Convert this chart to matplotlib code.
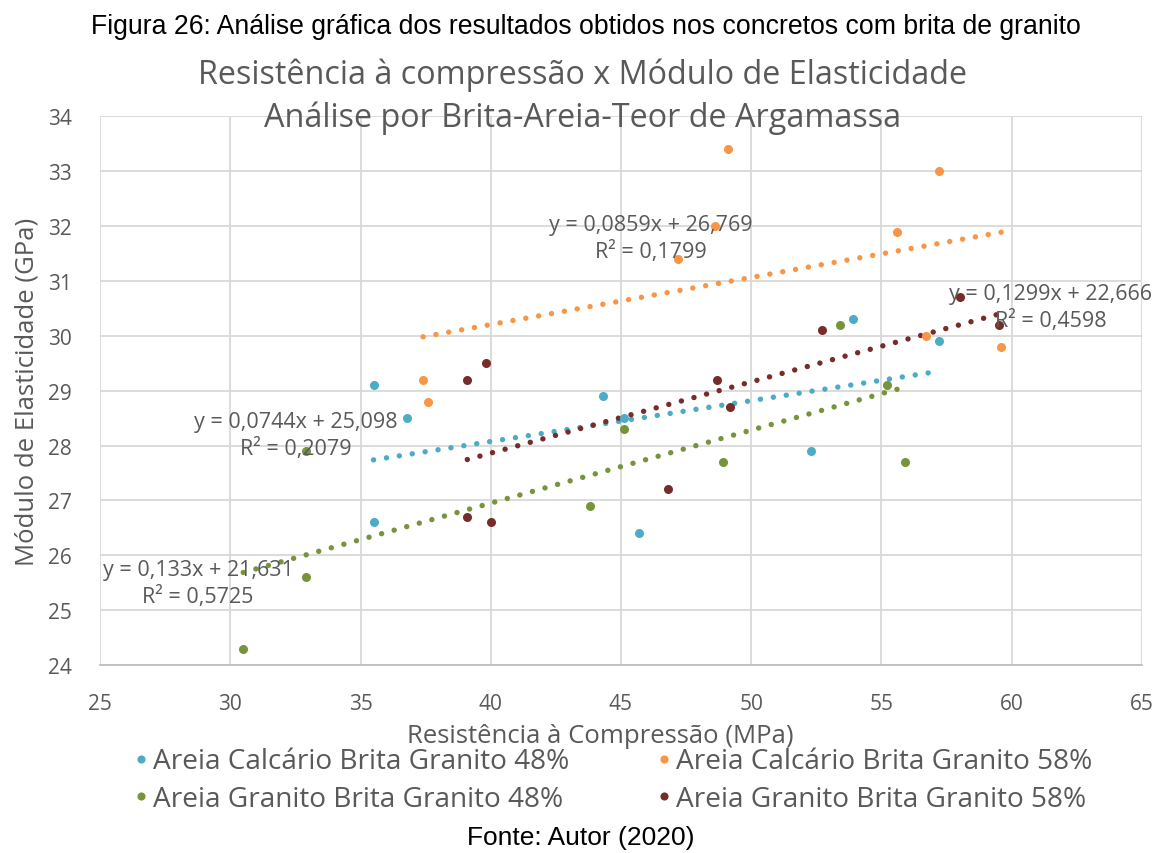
import numpy as np
import matplotlib
matplotlib.use("Agg")
import matplotlib.pyplot as plt

plt.rcParams['font.family'] = ['Open Sans', 'DejaVu Sans']

# dados (Resistencia MPa, Modulo GPa)
cal48_x = [35.5, 36.8, 35.5, 44.3, 45.1, 45.7, 52.3, 53.9, 57.2]
cal48_y = [29.1, 28.5, 26.6, 28.9, 28.5, 26.4, 27.9, 30.3, 29.9]

cal58_x = [37.4, 37.6, 47.2, 48.6, 49.1, 55.6, 56.7, 57.2, 59.6]
cal58_y = [29.2, 28.8, 31.4, 32.0, 33.4, 31.9, 30.0, 33.0, 29.8]

gra48_x = [30.5, 32.9, 32.9, 43.8, 45.1, 48.9, 53.4, 55.2, 55.9]
gra48_y = [24.3, 25.6, 27.9, 26.9, 28.3, 27.7, 30.2, 29.1, 27.7]

gra58_x = [39.1, 39.8, 39.1, 40.0, 46.8, 48.7, 49.2, 52.7, 58.0, 59.5]
gra58_y = [29.2, 29.5, 26.7, 26.6, 27.2, 29.2, 28.7, 30.1, 30.7, 30.2]

nomes = ["Areia Calcário Brita Granito 48%", "Areia Calcário Brita Granito 58%",
         "Areia Granito Brita Granito 48%", "Areia Granito Brita Granito 58%"]
cores = ["#4BACC6", "#F79646", "#77933C", "#772C2A"]

# equacoes das linhas de tendencia (como mostradas no grafico)
coef_a = [0.0744, 0.0859, 0.133, 0.1299]
coef_b = [25.098, 26.769, 21.631, 22.666]
eq_txt = ["y = 0,0744x + 25,098\nR² = 0,2079",
          "y = 0,0859x + 26,769\nR² = 0,1799",
          "y = 0,133x + 21,631\nR² = 0,5725",
          "y = 0,1299x + 22,666\nR² = 0,4598"]
eq_pos = [(32.52, 28.19), (46.15, 31.78), (28.76, 25.49), (61.5, 30.53)]

xs = [cal48_x, cal58_x, gra48_x, gra58_x]
ys = [cal48_y, cal58_y, gra48_y, gra58_y]

cinza = "#595959"

fig = plt.figure(figsize=(11.55, 8.54), dpi=100)
ax = fig.add_axes([0.0866, 0.2201, 0.9021, 0.6425])

handles = []
for x, y, c, n in zip(xs, ys, cores, nomes):
    h, = ax.plot(x, y, 'o', color=c, ms=6.5, mew=0, label=n, zorder=3)
    handles.append(h)

for x, c, a, b in zip(xs, cores, coef_a, coef_b):
    xt = np.array([min(x), max(x)])
    ax.plot(xt, a * xt + b, color=c, lw=3.9, ls=(0, (0.01, 2.4)),
            dash_capstyle='round', zorder=2)

for t, (px, py) in zip(eq_txt, eq_pos):
    ax.text(px, py, t, ha='center', va='center', fontsize=15.5, color=cinza,
            linespacing=1.3, zorder=4, clip_on=False)

ax.set_xlim(25, 65)
ax.set_ylim(24, 34)
ax.set_xticks(range(25, 66, 5))
ax.set_yticks(range(24, 35))
ax.grid(True, color="#D9D9D9", lw=1.3)
ax.set_axisbelow(True)
for s in ['top', 'right', 'left']:
    ax.spines[s].set_visible(False)
ax.spines['bottom'].set_color("#BFBFBF")
ax.spines['bottom'].set_linewidth(1.3)
ax.tick_params(length=0, labelsize=15, labelcolor=cinza)
ax.tick_params(axis='x', pad=20)
ax.tick_params(axis='y', pad=20)

ax.set_xlabel("Resistência à Compressão (MPa)", fontsize=18.5, color=cinza)
ax.xaxis.set_label_coords((600 - 100) / 1042, -0.105)
ax.set_ylabel("Módulo de Elasticidade (GPa)", fontsize=18.5, color=cinza)
ax.yaxis.set_label_coords(-0.058, 0.5)

fig.text(586 / 1155, 1 - 27 / 854,
         "Figura 26: Análise gráfica dos resultados obtidos nos concretos com brita de granito",
         ha='center', va='center', fontsize=19.2, family=['Liberation Sans'])
fig.text(583 / 1155, 1 - 75 / 854, "Resistência à compressão x Módulo de Elasticidade",
         ha='center', va='center', fontsize=23.3, color=cinza)
fig.text(583 / 1155, 1 - 118 / 854, "Análise por Brita-Areia-Teor de Argamassa",
         ha='center', va='center', fontsize=23.3, color=cinza)
fig.text(581 / 1155, 1 - 838 / 854, "Fonte: Autor (2020)",
         ha='center', va='center', fontsize=19, family=['Liberation Sans'])

# ordem por linha, como no Excel
ordem = [0, 2, 1, 3]
fig.legend([handles[i] for i in ordem], [nomes[i] for i in ordem],
           loc='center', bbox_to_anchor=(613 / 1155, 1 - 781 / 854), ncol=2,
           frameon=False, fontsize=20.2, handlelength=0.5, handletextpad=0.2,
           columnspacing=3.1, labelspacing=0.33, labelcolor=cinza,
           markerscale=0.9, borderpad=0, borderaxespad=0)

fig.savefig("out.png", dpi=100)
